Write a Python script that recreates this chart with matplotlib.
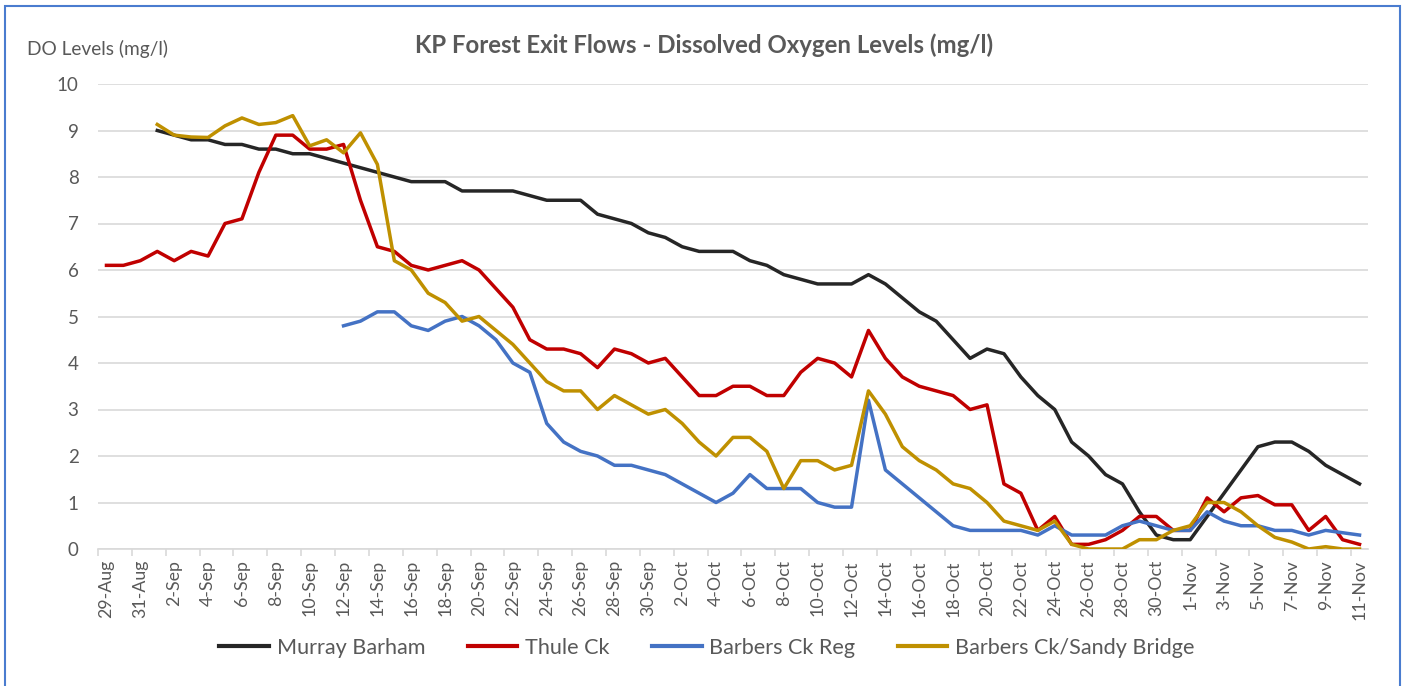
import numpy as np
import pandas as pd
import matplotlib
matplotlib.use("Agg")
import matplotlib.pyplot as plt
from matplotlib.patches import Rectangle
from matplotlib.lines import Line2D

plt.rcParams['font.family'] = ['Lato', 'DejaVu Sans']

nan = np.nan
dates = pd.date_range('2021-08-29', periods=75, freq='D')
date_labels = [f"{d.day}-{d.strftime('%b')}" for d in dates]

murray_barham = [nan, nan, nan, 9.0, 8.9, 8.8, 8.8, 8.7, 8.7, 8.6, 8.6, 8.5, 8.5, 8.4, 8.3,
                 8.2, 8.1, 8.0, 7.9, 7.9, 7.9, 7.7, 7.7, 7.7, 7.7, 7.6, 7.5, 7.5, 7.5, 7.2,
                 7.1, 7.0, 6.8, 6.7, 6.5, 6.4, 6.4, 6.4, 6.2, 6.1, 5.9, 5.8, 5.7, 5.7, 5.7,
                 5.9, 5.7, 5.4, 5.1, 4.9, 4.5, 4.1, 4.3, 4.2, 3.7, 3.3, 3.0, 2.3, 2.0, 1.6,
                 1.4, 0.8, 0.3, 0.2, 0.2, 0.7, 1.2, 1.7, 2.2, 2.3, 2.3, 2.1, 1.8, 1.6, 1.4]

thule_ck = [6.1, 6.1, 6.2, 6.4, 6.2, 6.4, 6.3, 7.0, 7.1, 8.1, 8.9, 8.9, 8.6, 8.6, 8.7,
            7.5, 6.5, 6.4, 6.1, 6.0, 6.1, 6.2, 6.0, 5.6, 5.2, 4.5, 4.3, 4.3, 4.2, 3.9,
            4.3, 4.2, 4.0, 4.1, 3.7, 3.3, 3.3, 3.5, 3.5, 3.3, 3.3, 3.8, 4.1, 4.0, 3.7,
            4.7, 4.1, 3.7, 3.5, 3.4, 3.3, 3.0, 3.1, 1.4, 1.2, 0.4, 0.7, 0.1, 0.1, 0.2,
            0.4, 0.7, 0.7, 0.4, 0.4, 1.1, 0.8, 1.1, 1.15, 0.95, 0.95, 0.4, 0.7, 0.2, 0.1]

barbers_ck_reg = [nan, nan, nan, nan, nan, nan, nan, nan, nan, nan, nan, nan, nan, nan, 4.8,
                  4.9, 5.1, 5.1, 4.8, 4.7, 4.9, 5.0, 4.8, 4.5, 4.0, 3.8, 2.7, 2.3, 2.1, 2.0,
                  1.8, 1.8, 1.7, 1.6, 1.4, 1.2, 1.0, 1.2, 1.6, 1.3, 1.3, 1.3, 1.0, 0.9, 0.9,
                  3.2, 1.7, 1.4, 1.1, 0.8, 0.5, 0.4, 0.4, 0.4, 0.4, 0.3, 0.5, 0.3, 0.3, 0.3,
                  0.5, 0.6, 0.5, 0.4, 0.4, 0.8, 0.6, 0.5, 0.5, 0.4, 0.4, 0.3, 0.4, 0.35, 0.3]

barbers_sandy_bridge = [nan, nan, nan, 9.13, 8.9, 8.86, 8.85, 9.1, 9.27, 9.13, 9.17, 9.32, 8.67, 8.8, 8.52,
                        8.95, 8.27, 6.2, 6.0, 5.5, 5.3, 4.9, 5.0, 4.7, 4.4, 4.0, 3.6, 3.4, 3.4, 3.0,
                        3.3, 3.1, 2.9, 3.0, 2.7, 2.3, 2.0, 2.4, 2.4, 2.1, 1.3, 1.9, 1.9, 1.7, 1.8,
                        3.4, 2.9, 2.2, 1.9, 1.7, 1.4, 1.3, 1.0, 0.6, 0.5, 0.4, 0.6, 0.1, 0.0, 0.0,
                        0.0, 0.2, 0.2, 0.4, 0.5, 1.0, 1.0, 0.8, 0.5, 0.25, 0.15, 0.0, 0.05, 0.0, 0.0]

series_names = ['Murray Barham', 'Thule Ck', 'Barbers Ck Reg', 'Barbers Ck/Sandy Bridge']
series_values = [murray_barham, thule_ck, barbers_ck_reg, barbers_sandy_bridge]
series_colors = ['#262626', '#C00000', '#4472C4', '#BF9000']

W, H = 1407, 686
fig = plt.figure(figsize=(W / 100, H / 100), dpi=100)
fig.patch.set_facecolor('white')

# blue frame around chart
fig.add_artist(Rectangle((5 / W, -0.05), (1400 - 5) / W, 1.05 - 6 / H,
                         transform=fig.transFigure, fill=False,
                         edgecolor='#4A7CCF', linewidth=1.5))

ax = fig.add_axes([98 / W, 1 - 549 / H, (1368 - 98) / W, (549 - 84) / H])
x = np.arange(len(dates))
for name, vals, col in zip(series_names, series_values, series_colors):
    ax.plot(x, np.array(vals, dtype=float), color=col, lw=2.5, label=name,
            solid_joinstyle='round', zorder=3)

ax.set_xlim(-0.5, len(dates) - 0.5)
ax.set_ylim(0, 10)
ax.set_yticks(range(0, 11))
ax.yaxis.grid(True, color='#D9D9D9', lw=1.2)
ax.set_axisbelow(True)
for s in ['top', 'right', 'left']:
    ax.spines[s].set_visible(False)
ax.spines['bottom'].set_color('#D9D9D9')
ax.spines['bottom'].set_linewidth(1.2)
ax.tick_params(axis='y', length=0, pad=14, labelsize=13.5, labelcolor='#595959')
ax.set_xticks(x[::2])
ax.set_xticklabels(date_labels[::2], rotation=90, fontsize=12.8, color='#595959')
ax.set_xticks(np.arange(-0.5, len(dates), 2), minor=True)
ax.tick_params(axis='x', which='major', length=0, pad=8)
ax.tick_params(axis='x', which='minor', length=5, color='#D9D9D9', width=1.2)

fig.text(27 / W, 1 - 49 / H, 'DO Levels (mg/l)', fontsize=13.8, color='#595959',
         ha='left', va='center')
fig.text(704 / W, 1 - 45 / H, 'KP Forest Exit Flows - Dissolved Oxygen Levels (mg/l)',
         fontsize=17.3, fontweight='bold', color='#595959', ha='center', va='center')

handles = [Line2D([], [], color=c, lw=3) for c in series_colors]
fig.legend(handles, series_names, loc='center', bbox_to_anchor=(707 / W, 1 - 648 / H),
           ncol=4, frameon=False, fontsize=15.6, labelcolor='#595959',
           handlelength=2.3, handletextpad=0.35, columnspacing=1.95)

fig.savefig('out.png', dpi=100, facecolor='white')
